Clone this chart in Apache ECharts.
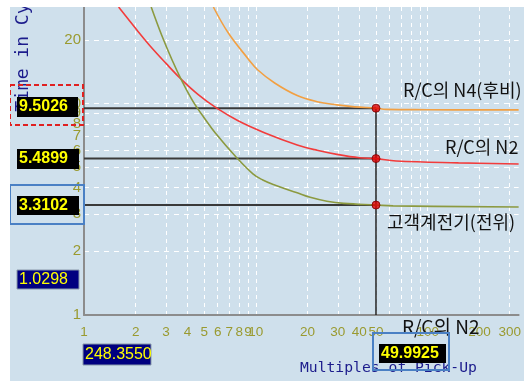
<!DOCTYPE html>
<html><head><meta charset="utf-8">
<script src="https://cdn.jsdelivr.net/npm/echarts@6/dist/echarts.min.js"></script>
<style>html,body{margin:0;padding:0;background:#fff;}#c{width:524px;height:381px;}</style>
</head><body><div id="c"></div>
<script>
// ---- data (raw units, log-log chart) ----
const xTickLabels = [1,2,3,4,5,6,7,8,9,10,20,30,40,50,100,200,300];
const xGridValues = [1,2,3,4,5,6,7,8,9,10,20,30,40,50,60,70,80,90,100,200,300];
const yTickLabels = [1,2,3,4,5,6,7,8,9,10,20];
const yGridValues = [1,2,3,4,5,6,7,8,9,10,20];
const xRange = [1, 338];
const yRange = [1, 28.6];

const n4X = [5.66, 6.90, 9.0, 10.27, 12.86, 17.4, 22.7, 29.6, 37.6, 50, 57.4, 100, 200, 338];
const n4Y = [28.6, 21.6, 16.3, 14.4, 12.5, 10.9, 10.2, 9.85, 9.64, 9.5026, 9.38, 9.35, 9.33, 9.33];

const n2X = [1.59, 2.02, 2.39, 3.0, 3.71, 4.64, 5.89, 7.88, 11.3, 17.4, 22.7, 29.6, 40.1, 50, 65.5, 151, 338];
const n2Y = [28.6, 22.4, 18.97, 15.48, 12.93, 10.98, 9.53, 8.29, 7.26, 6.37, 6.01, 5.75, 5.54, 5.4899, 5.35, 5.24, 5.18];

const relayX = [2.46, 2.84, 3.25, 3.71, 4.23, 4.64, 4.96, 5.81, 7.67, 9.61, 10.97, 12.86, 17.4, 20.7, 25.9, 32.5, 50, 62.9, 338];
const relayY = [28.6, 20.9, 16.1, 12.8, 10.5, 9.33, 8.64, 7.26, 5.59, 4.65, 4.35, 4.12, 3.78, 3.60, 3.45, 3.37, 3.3102, 3.28, 3.24];

const pickupMultiple = 50;
const operateTimes = [9.5026, 5.4899, 3.3102];
const seriesNames = ['R/C의 N4(후비)', 'R/C의 N2', '고객계전기(전위)'];

// ---- chart ----
const L = v => Math.log10(v);
const pts = (xs, ys) => xs.map((x, i) => [L(x), L(ys[i])]);
const fmt = v => String(Math.round(Math.pow(10, v)));

const chart = echarts.init(document.getElementById('c'));
const narrow = "'Liberation Sans Narrow','Liberation Sans',sans-serif";
const kr = "'Noto Sans CJK KR','Noto Sans',sans-serif";
const mono = "'DejaVu Sans Mono','Liberation Mono',monospace";

const refLines = operateTimes.map(t => ({
  type: 'line', data: [[L(xRange[0]), L(t)], [L(pickupMultiple), L(t)]],
  symbol: 'none', lineStyle: {color: '#3a3a3a', width: 2}, z: 3, silent: true
}));

function box(x, y, w, h, fill, text, bold) {
  return [
    {type: 'rect', shape: {x, y, width: w, height: h}, style: {fill, stroke: fill === '#000080' ? '#8899aa' : null, lineWidth: 1}, z: 100},
    {type: 'text', x: x + 2, y: y + h / 2, style: {text, fill: '#ffff00', font: (bold ? 'bold 16px Liberation Sans, sans-serif' : '16px ' + narrow), verticalAlign: 'middle', align: 'left'}, z: 101}
  ];
}

const option = {
  backgroundColor: '#cfe0ec',
  animation: false,
  grid: {left: 84, right: 0, top: 7, bottom: 66, containLabel: false},
  xAxis: {
    type: 'value', min: L(xRange[0]), max: L(xRange[1]),
    axisLine: {show: true, lineStyle: {color: '#8c8c8c', width: 2}},
    axisTick: {show: false, customValues: xGridValues.map(L)},
    axisLabel: {customValues: xTickLabels.map(L), formatter: fmt, color: '#9a9a30', fontFamily: narrow, fontSize: 13.5, margin: 10, hideOverlap: false},
    splitLine: {show: true, lineStyle: {color: '#ffffff', type: [4, 4], width: 1}}
  },
  yAxis: {
    type: 'value', min: L(yRange[0]), max: L(yRange[1]),
    axisLine: {show: true, lineStyle: {color: '#8c8c8c', width: 2}},
    axisTick: {show: false, customValues: yGridValues.map(L)},
    axisLabel: {customValues: yTickLabels.map(L), formatter: fmt, color: '#9a9a30', fontFamily: narrow, fontSize: 15, margin: 3, hideOverlap: false},
    splitLine: {show: true, lineStyle: {color: '#ffffff', type: [5, 5], width: 1}}
  },
  series: [
    {name: seriesNames[0], type: 'line', data: pts(n4X, n4Y), symbol: 'none', smooth: 0.4, lineStyle: {color: '#f2a043', width: 1.6}, z: 4},
    {name: seriesNames[1], type: 'line', data: pts(n2X, n2Y), symbol: 'none', smooth: 0.4, lineStyle: {color: '#f23c3c', width: 1.6}, z: 4},
    {name: seriesNames[2], type: 'line', data: pts(relayX, relayY), symbol: 'none', smooth: 0.4, lineStyle: {color: '#8c9a40', width: 1.6}, z: 4},
    ...refLines,
    {type: 'line', data: [[L(pickupMultiple), L(operateTimes[0])], [L(pickupMultiple), L(yRange[0])]], symbol: 'none', lineStyle: {color: '#222', width: 1.5}, z: 3},
    {type: 'scatter', data: operateTimes.map(t => [L(pickupMultiple), L(t)]), symbol: 'circle', symbolSize: 8,
     itemStyle: {color: '#e00000', borderColor: '#7a0000', borderWidth: 1}, z: 6}
  ],
  graphic: [
    {type: 'rect', shape: {x: 0, y: 0, width: 524, height: 7}, style: {fill: '#ffffff'}, z: 200},
    {type: 'rect', shape: {x: 0, y: 0, width: 10, height: 381}, style: {fill: '#ffffff'}, z: 200},
    {type: 'text', x: 23, y: 36, rotation: Math.PI / 2, style: {text: 'Time in Cycles', fill: '#1c1c8c', font: '18px ' + mono, align: 'center', verticalAlign: 'middle'}, z: 50},
    {type: 'text', x: 300, y: 368, style: {text: 'Multiples of Pick-Up', fill: '#1c1c8c', font: '14.7px ' + mono, align: 'left', verticalAlign: 'middle'}, z: 50},
    {type: 'text', x: 403, y: 90, style: {text: seriesNames[0], fill: '#111', font: '18px ' + kr, verticalAlign: 'middle'}, z: 60},
    {type: 'text', x: 445, y: 147, style: {text: seriesNames[1], fill: '#111', font: '18px ' + kr, verticalAlign: 'middle'}, z: 60},
    {type: 'text', x: 387, y: 222, style: {text: seriesNames[2], fill: '#111', font: '18px ' + kr, verticalAlign: 'middle'}, z: 60},
    {type: 'text', x: 402, y: 327, style: {text: 'R/C의 N2', fill: '#111', font: '19px ' + kr, verticalAlign: 'middle'}, z: 60},
    ...box(17, 97, 61, 20, '#000', '9.5026', true),
    ...box(17, 149, 62, 20, '#000', '5.4899', true),
    ...box(17, 196, 62, 19, '#000', '3.3102', true),
    ...box(17, 270, 62, 19, '#000080', '1.0298', false),
    ...box(83, 344, 68, 21, '#000080', '248.3550', false),
    ...box(379, 344, 67, 19, '#000', '49.9925', true),
    {type: 'rect', shape: {x: 10, y: 85, width: 73, height: 40}, style: {fill: null, stroke: '#e02020', lineWidth: 2, lineDash: [5, 3]}, z: 110},
    {type: 'rect', shape: {x: 10, y: 185, width: 74, height: 39}, style: {fill: null, stroke: '#4a80c4', lineWidth: 2}, z: 110},
    {type: 'rect', shape: {x: 373, y: 333, width: 76, height: 37}, style: {fill: null, stroke: '#4a80c4', lineWidth: 2}, z: 110}
  ]
};
chart.setOption(option);
</script></body></html>
